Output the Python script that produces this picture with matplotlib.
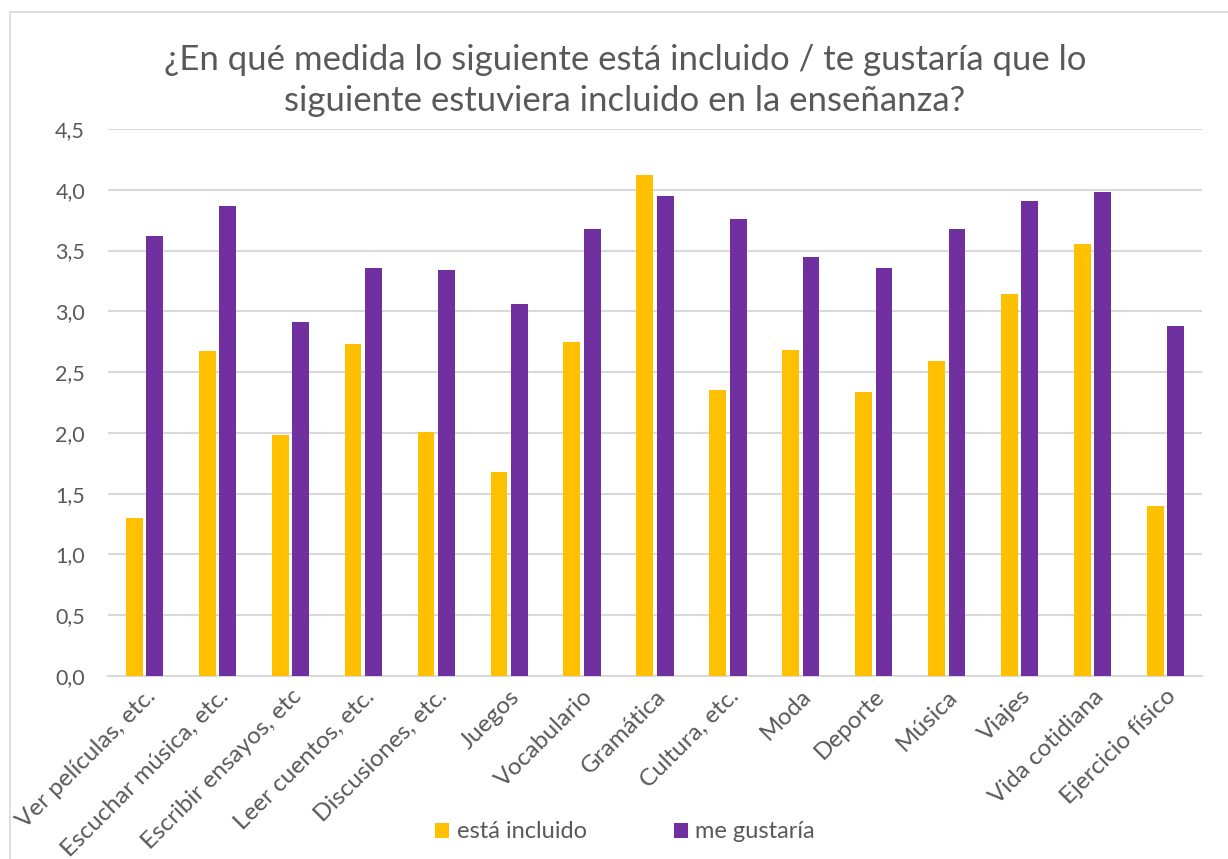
import numpy as np
import matplotlib
matplotlib.use('Agg')
import matplotlib.pyplot as plt
from matplotlib.patches import Rectangle

plt.rcParams['font.family'] = ['Lato', 'DejaVu Sans']

################################################################################
### data
categories = ['Ver películas, etc.', 'Escuchar música, etc.', 'Escribir ensayos, etc',
              'Leer cuentos, etc.', 'Discusiones, etc.', 'Juegos', 'Vocabulario',
              'Gramática', 'Cultura, etc.', 'Moda', 'Deporte', 'Música', 'Viajes',
              'Vida cotidiana', 'Ejercicio físico']
esta_incluido = [1.30, 2.67, 1.98, 2.73, 2.01, 1.68, 2.75, 4.12, 2.35, 2.68, 2.34, 2.59, 3.14, 3.55, 1.40]
me_gustaria = [3.62, 3.87, 2.91, 3.36, 3.34, 3.06, 3.68, 3.95, 3.76, 3.45, 3.36, 3.68, 3.91, 3.98, 2.88]
yticks = [0.0, 0.5, 1.0, 1.5, 2.0, 2.5, 3.0, 3.5, 4.0, 4.5]

yellow = '#FFC000'
purple = '#7030A0'
gray_txt = '#595959'
grid_col = '#D9D9D9'

################################################################################
### plot
W, H = 1228, 859
fig = plt.figure(figsize=(W/100, H/100), dpi=100)
ax = fig.add_axes([108/W, 1 - 676/H, (1202 - 108)/W, (676 - 129)/H])

# chart border
fig.patches.append(Rectangle((10/W, -0.05), 1.2, 1 - 12/H + 0.05, transform=fig.transFigure,
                             fill=False, edgecolor='#D9D9D9', linewidth=1.2))

x = np.arange(len(categories))
bw = 0.23
off = 0.14
ax.bar(x - off, esta_incluido, bw, color=yellow, label='está incluido', zorder=3)
ax.bar(x + off, me_gustaria, bw, color=purple, label='me gustaría', zorder=3)

ax.set_xlim(-0.5, len(categories) - 0.5)
ax.set_ylim(0, 4.5)
ax.set_yticks(yticks)
ax.set_yticklabels([('%.1f' % v).replace('.', ',') for v in yticks])
ax.grid(axis='y', color=grid_col, linewidth=1.5, zorder=0)
ax.set_axisbelow(True)
for s in ['top', 'right', 'left']:
    ax.spines[s].set_visible(False)
ax.spines['bottom'].set_color(grid_col)
ax.spines['bottom'].set_linewidth(1.5)

ax.set_xticks(x)
ax.set_xticklabels(categories, rotation=45, ha='right', rotation_mode='anchor')
ax.tick_params(axis='both', length=0, labelcolor=gray_txt)
ax.tick_params(axis='x', labelsize=17.5, pad=7)
ax.tick_params(axis='y', labelsize=15.5, pad=16.5)

fig.text(625/W, 1 - 60/H, '¿En qué medida lo siguiente está incluido / te gustaría que lo',
         ha='center', va='center', fontsize=25, color=gray_txt)
fig.text(625/W, 1 - 101/H, 'siguiente estuviera incluido en la enseñanza?',
         ha='center', va='center', fontsize=25, color=gray_txt)

leg = fig.legend(loc='center', bbox_to_anchor=(625/W, 1 - 832/H), ncol=2, frameon=False,
                 fontsize=17, handlelength=0.6, handleheight=0.6, handletextpad=0.3,
                 columnspacing=3.7)
for t in leg.get_texts():
    t.set_color(gray_txt)

fig.savefig('out.png', dpi=100)
